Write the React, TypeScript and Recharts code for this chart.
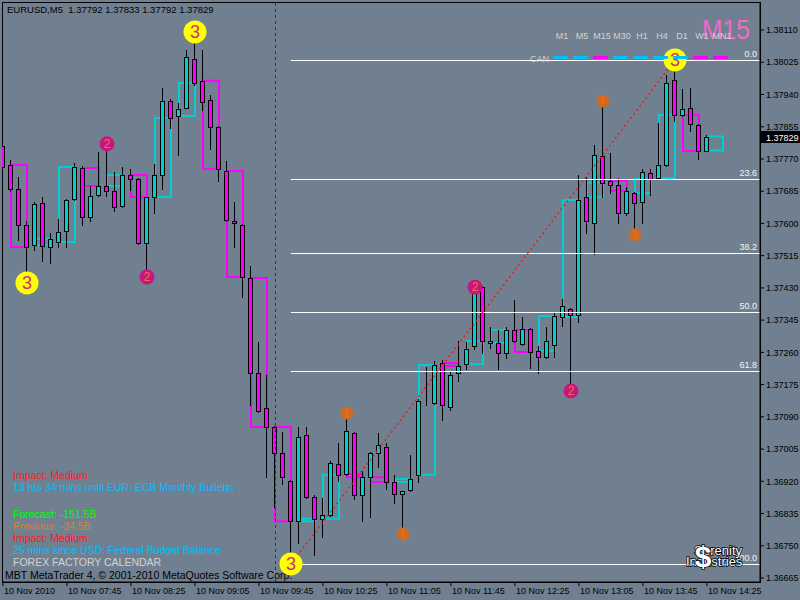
import React from 'react';
import { ComposedChart, Bar, XAxis, YAxis, ReferenceLine, ReferenceArea, ReferenceDot } from 'recharts';

// ---- M5 candles (EURUSD) ----
const OPEN = [
  1.37804,1.37754,1.37691,1.37596,1.37543,1.37654,1.37538,1.37551,1.37580,1.37664,
  1.37746,1.37617,1.37675,1.37699,1.37686,1.37646,1.37728,1.37717,1.37548,1.37670,
  1.37728,1.37923,1.37883,1.37904,1.38034,1.37976,1.37926,1.37854,1.37738,1.37606,
  1.37596,1.37456,1.37206,1.37113,1.37063,1.36995,1.36921,1.36815,1.37042,1.36879,
  1.36821,1.36831,1.36966,1.36939,1.37047,1.36884,1.36931,1.36995,1.37010,1.36918,
  1.36887,1.36897,1.36937,1.37126,1.37126,1.37232,1.37116,1.37206,1.37229,1.37277,
  1.37432,1.37285,1.37285,1.37258,1.37319,1.37282,1.37322,1.37264,1.37248,1.37279,
  1.37353,1.37374,1.37359,1.37670,1.37601,1.37778,1.37712,1.37701,1.37628,1.37680,
  1.37657,1.37733,1.37720,1.37754,1.37978,1.37886,1.37904,1.37860,1.37792,
];
const HIGH = [
  1.37857,1.37767,1.37722,1.37606,1.37657,1.37670,1.37575,1.37612,1.37664,1.37759,
  1.37751,1.37699,1.37788,1.37810,1.37736,1.37749,1.37744,1.37720,1.37670,1.37757,
  1.37957,1.37928,1.37918,1.38057,1.38105,1.38057,1.37939,1.37857,1.37765,1.37657,
  1.37598,1.37488,1.37287,1.37200,1.37065,1.37050,1.36923,1.37063,1.37063,1.36884,
  1.36876,1.36974,1.37021,1.37100,1.37049,1.36947,1.36997,1.37047,1.37021,1.36937,
  1.36894,1.36989,1.37137,1.37221,1.37237,1.37240,1.37208,1.37290,1.37287,1.37432,
  1.37434,1.37327,1.37319,1.37327,1.37398,1.37353,1.37324,1.37277,1.37327,1.37366,
  1.37401,1.37377,1.37728,1.37722,1.37807,1.37923,1.37786,1.37720,1.37696,1.37682,
  1.37744,1.37744,1.37865,1.37991,1.38031,1.37955,1.37957,1.37862,1.37833,
];
const LOW = [
  1.37741,1.37686,1.37556,1.37443,1.37530,1.37501,1.37496,1.37538,1.37538,1.37662,
  1.37596,1.37606,1.37672,1.37672,1.37633,1.37643,1.37688,1.37545,1.37459,1.37628,
  1.37691,1.37852,1.37780,1.37904,1.37965,1.37899,1.37796,1.37712,1.37606,1.37538,
  1.37406,1.37121,1.37103,1.36931,1.36852,1.36913,1.36702,1.36757,1.36877,1.36726,
  1.36773,1.36829,1.36921,1.36937,1.36873,1.36815,1.36826,1.36958,1.36900,1.36863,
  1.36781,1.36895,1.36918,1.37121,1.37124,1.37082,1.37108,1.37184,1.37216,1.37269,
  1.37258,1.37272,1.37216,1.37245,1.37288,1.37280,1.37219,1.37206,1.37246,1.37248,
  1.37330,1.37158,1.37340,1.37575,1.37519,1.37670,1.37680,1.37601,1.37622,1.37570,
  1.37601,1.37675,1.37718,1.37752,1.37870,1.37884,1.37844,1.37770,1.37792,
];
const CLOSE = [
  1.37749,1.37691,1.37596,1.37538,1.37651,1.37540,1.37559,1.37577,1.37662,1.37749,
  1.37617,1.37672,1.37699,1.37686,1.37643,1.37728,1.37717,1.37548,1.37670,1.37728,
  1.37923,1.37878,1.37902,1.38039,1.37970,1.37920,1.37854,1.37744,1.37609,1.37601,
  1.37459,1.37206,1.37105,1.37063,1.36995,1.36931,1.36815,1.37037,1.36879,1.36821,
  1.36831,1.36968,1.36937,1.37053,1.36884,1.36931,1.36995,1.37016,1.36918,1.36887,
  1.36895,1.36926,1.37132,1.37126,1.37227,1.37121,1.37200,1.37224,1.37269,1.37424,
  1.37290,1.37290,1.37258,1.37319,1.37290,1.37322,1.37261,1.37248,1.37290,1.37356,
  1.37382,1.37359,1.37662,1.37606,1.37780,1.37707,1.37701,1.37628,1.37686,1.37654,
  1.37736,1.37717,1.37754,1.37970,1.37886,1.37902,1.37862,1.37791,1.37829,
];

const TIME_TICKS = [0, 8, 16, 24, 32, 40, 48, 56, 64, 72, 80, 88];
const TIME_LABELS = [
  '10 Nov 2010', '10 Nov 07:45', '10 Nov 08:25', '10 Nov 09:05', '10 Nov 09:45', '10 Nov 10:25',
  '10 Nov 11:05', '10 Nov 11:45', '10 Nov 12:25', '10 Nov 13:05', '10 Nov 13:45', '10 Nov 14:25',
];
const PRICE_TICKS = [
  1.38110, 1.38025, 1.37940, 1.37855, 1.37770, 1.37685, 1.37600, 1.37515, 1.37430,
  1.37345, 1.37260, 1.37175, 1.37090, 1.37005, 1.36920, 1.36835, 1.36750, 1.36665,
];

// Fibonacci retracement from swing low to swing high
const FIB_FROM = 36;
const FIB_TO = 84;
const FIB_LEVELS = [0, 23.6, 38.2, 50, 61.8, 100];
const FIB_LABELS = ['0.0', '23.6', '38.2', '50.0', '61.8', '100.0'];

// zigzag markers (index, H/L)
const ZIGZAG3 = [{ i: 3, side: 'L' }, { i: 24, side: 'H' }, { i: 36, side: 'L' }, { i: 84, side: 'H' }];
const ZIGZAG2 = [{ i: 13, side: 'H' }, { i: 18, side: 'L' }, { i: 59, side: 'H' }, { i: 71, side: 'L' }];
const ZIGZAG1 = [{ i: 43, side: 'H' }, { i: 50, side: 'L' }, { i: 75, side: 'H' }, { i: 79, side: 'L' }];

const SEPARATOR_IDX = 34;
const M15_GROUP_START = 1; // first M5 bar of an M15 bar

const TIMEFRAMES = ['M1', 'M5', 'M15', 'M30', 'H1', 'H4', 'D1', 'W1', 'MN1'];
const TF_TREND = ['up', 'up', 'down', 'up', 'up', 'up', 'up', 'down', 'down'];

const NEWS = [
  { t: 'Impact: Medium', c: '#ff1a1a' },
  { t: '13 hrs 34 mins until EUR: ECB Monthly Bulletin', c: '#00bfff' },
  { t: 'Forecast: -151.5B', c: '#00ff00' },
  { t: 'Previous: -34.5B', c: '#cd853f' },
  { t: 'Impact: Medium', c: '#ff1a1a' },
  { t: '25 mins since USD: Federal Budget Balance', c: '#00bfff' },
  { t: 'FOREX FACTORY CALENDAR', c: '#d3d3d3' },
];
const NEWS_BASE = [479, 491, 518, 530, 542, 554, 566];

const BG = '#708090';
const CYAN = '#00ced1';
const MAGENTA = '#ff00ff';
const FONT = '"Liberation Sans", Arial, sans-serif';

const X_MIN = -0.125;
const X_MAX = 94.625;
const Y_MIN = 1.366545;
const Y_MAX = 1.381839;

const N = OPEN.length;
const DATA = OPEN.map((o, i) => ({ i, o, h: HIGH[i], l: LOW[i], c: CLOSE[i], range: [LOW[i], HIGH[i]] }));

const BOXES: { g: number; o: number; c: number }[] = [];
for (let g = M15_GROUP_START; g < N; g += 3) {
  const last = Math.min(g + 2, N - 1);
  BOXES.push({ g, o: OPEN[g], c: CLOSE[last] });
}

const swingHigh = HIGH[FIB_TO];
const swingLow = LOW[FIB_FROM];
const fibPrice = (lvl: number) => swingHigh - (swingHigh - swingLow) * lvl / 100;

const crisp = (v: number) => Math.round(v) + 0.5;

const Candle = (props: any) => {
  const { x, y, width, height, payload } = props;
  if (x == null || y == null) return null;
  const { o, h, l, c } = payload;
  const yTop = Math.min(y, y + height);
  const hh = Math.abs(height);
  const span = h - l;
  const py = (v: number) => (span > 0 ? yTop + ((h - v) / span) * hh : yTop);
  const cx = Math.floor(x + width / 2) + 0.5;
  const top = Math.round(py(Math.max(o, c))) + 0.5;
  const bot = Math.round(py(Math.min(o, c))) + 0.5;
  const up = c >= o;
  return (
    <g>
      <line x1={cx} x2={cx} y1={Math.round(py(h))} y2={Math.round(py(l)) + 1} stroke="#000" strokeWidth={1} />
      <rect x={cx - 2} y={top} width={4} height={Math.max(bot - top, 0)} fill={up ? CYAN : MAGENTA} stroke="#000" strokeWidth={1} />
    </g>
  );
};

const TimeTick = (props: any) => {
  const { x, y, payload } = props;
  const k = TIME_TICKS.indexOf(payload.value);
  return (
    <text x={x + 1} y={y} dy="0.71em" textAnchor="start" fontSize={9} fill="#000" fontFamily={FONT}>
      {TIME_LABELS[k]}
    </text>
  );
};

const crispLine = (color: string, dash?: string) => (p: any) => (
  <line
    x1={p.x1 === p.x2 ? crisp(p.x1) : p.x1}
    x2={p.x1 === p.x2 ? crisp(p.x2) : p.x2}
    y1={p.y1 === p.y2 ? crisp(p.y1) : p.y1}
    y2={p.y1 === p.y2 ? crisp(p.y2) : p.y2}
    stroke={color}
    strokeWidth={1}
    strokeDasharray={dash}
  />
);

export default function App() {
  const last = N - 1;
  const header = `EURUSD,M5  ${OPEN[last].toFixed(5)} ${HIGH[last].toFixed(5)} ${LOW[last].toFixed(5)} ${CLOSE[last].toFixed(5)}`;
  return (
    <div style={{ position: 'absolute', left: 0, top: 0, width: 800, height: 600, background: BG, overflow: 'hidden', fontFamily: FONT }}>
      <svg style={{ position: 'absolute', left: 0, top: 0 }} width={800} height={600}>
        <rect x={2.5} y={2.5} width={758} height={580} fill="none" stroke="#000" />
        <text x={7} y={13} fontSize={9.5} fill="#000" style={{ whiteSpace: 'pre' }}>{header}</text>
        {NEWS.map((n, k) => (
          <text key={k} x={13} y={NEWS_BASE[k]} fontSize={10.5} fill={n.c}>{n.t}</text>
        ))}
        <text x={5} y={579} fontSize={10.5} fill="#000">MBT MetaTrader 4, © 2001-2010 MetaQuotes Software Corp.</text>
      </svg>
      <div style={{ position: 'absolute', left: 0, top: 0 }}>
        <ComposedChart width={800} height={600} data={DATA} margin={{ top: 2, right: 0, bottom: 0, left: 2 }}>
          <XAxis
            dataKey="i"
            type="number"
            domain={[X_MIN, X_MAX]}
            allowDataOverflow
            ticks={TIME_TICKS}
            interval={0}
            height={18}
            tick={<TimeTick />}
            tickSize={4}
            tickLine={{ stroke: '#000' }}
            axisLine={{ stroke: '#000' }}
          />
          <YAxis
            orientation="right"
            type="number"
            domain={[Y_MIN, Y_MAX]}
            allowDataOverflow
            ticks={PRICE_TICKS}
            interval={0}
            width={40}
            tickFormatter={(v: number) => v.toFixed(5)}
            tick={{ fill: '#000', fontSize: 9, fontFamily: FONT }}
            tickSize={4}
            tickLine={{ stroke: '#000' }}
            axisLine={{ stroke: '#000' }}
          />
          <ReferenceLine x={SEPARATOR_IDX} stroke="#303840" strokeDasharray="3 3" shape={crispLine('#303840', '3 3')} />
          {FIB_LEVELS.map((lvl, k) => (
            <ReferenceLine
              key={'fib' + k}
              segment={[{ x: FIB_FROM, y: fibPrice(lvl) }, { x: X_MAX, y: fibPrice(lvl) }]}
              stroke="#ffffff"
              strokeWidth={1}
              shape={crispLine('#ffffff')}
              label={(p: any) => {
                const vb = p.viewBox || {};
                return (
                  <text x={(vb.x || 0) + (vb.width || 0) - 3} y={Math.round(vb.y || 0) - 3} textAnchor="end" fontSize={9} fill="#f4f4f4" fontFamily={FONT}>
                    {FIB_LABELS[k]}
                  </text>
                );
              }}
            />
          ))}
          <ReferenceLine
            segment={[{ x: FIB_FROM, y: swingLow }, { x: FIB_TO, y: swingHigh }]}
            stroke="#ff1010"
            strokeWidth={1.4}
            strokeDasharray="2 3"
          />
          {ZIGZAG3.map((m) => (
            <ReferenceDot key={'z3' + m.i} x={m.i} y={m.side === 'H' ? HIGH[m.i] : LOW[m.i]} r={11.5} fill="#ffff00" stroke="none" ifOverflow="visible"
              label={{ value: '3', position: 'center', fill: '#d02c80', fontSize: 18, fontFamily: FONT }} />
          ))}
          {ZIGZAG2.map((m) => (
            <ReferenceDot key={'z2' + m.i} x={m.i} y={m.side === 'H' ? HIGH[m.i] : LOW[m.i]} r={7.5} fill="#c71585" stroke="none" ifOverflow="visible"
              label={{ value: '2', position: 'center', fill: '#e8762a', fontSize: 12, fontFamily: FONT }} />
          ))}
          {ZIGZAG1.map((m) => (
            <ReferenceDot key={'z1' + m.i} x={m.i} y={m.side === 'H' ? HIGH[m.i] : LOW[m.i]} r={6.5} fill="#d2691e" stroke="none" ifOverflow="visible"
              label={{ value: '1', position: 'center', fill: '#dc7430', fontSize: 10, fontFamily: FONT }} />
          ))}
          {BOXES.map((b) => (
            <ReferenceArea key={'bx' + b.g} x1={b.g} x2={b.g + 2} y1={b.o} y2={b.c} fill="none" fillOpacity={0}
              stroke={b.c >= b.o ? CYAN : MAGENTA} strokeWidth={2} ifOverflow="visible" />
          ))}
          <Bar dataKey="range" barSize={5} shape={<Candle />} isAnimationActive={false} />
          <ReferenceLine
            y={CLOSE[last]}
            stroke="none"
            strokeOpacity={0}
            label={(p: any) => {
              const vb = p.viewBox || {};
              const rx = (vb.x || 0) + (vb.width || 0);
              const cy = Math.round(vb.y || 0);
              return (
                <g>
                  <rect x={rx} y={cy - 6} width={40} height={12} fill="#000" />
                  <text x={rx + 6} y={cy + 3.5} fontSize={9} fill="#fff" fontFamily={FONT}>{CLOSE[last].toFixed(5)}</text>
                </g>
              );
            }}
          />
        </ComposedChart>
      </div>
      <svg style={{ position: 'absolute', left: 0, top: 0, pointerEvents: 'none' }} width={800} height={600}>
        <text x={702} y={39} fontSize={28} fill="#f06bc8" textLength={48} lengthAdjust="spacingAndGlyphs" fontFamily={FONT}>M15</text>
        {TIMEFRAMES.map((tf, k) => (
          <g key={tf}>
            <text x={562 + 20 * k} y={39} textAnchor="middle" fontSize={9} fill="#d3d3d3" fontFamily={FONT}>{tf}</text>
            <rect x={553 + 20 * k} y={56} width={15} height={3} fill={TF_TREND[k] === 'up' ? '#00bfff' : MAGENTA} />
          </g>
        ))}
        <text x={530} y={62} fontSize={9} fill="#d3d3d3" fontFamily={FONT}>CAN</text>
        <text x={742} y={555} textAnchor="end" fontSize={13} fill="#ffffff" stroke="#000" strokeWidth={1.5} style={{ paintOrder: 'stroke' }} fontFamily={FONT}>Serenity</text>
        <text x={686} y={566} fontSize={13} fill="#ffffff" stroke="#000" strokeWidth={1.5} style={{ paintOrder: 'stroke' }} fontFamily={FONT}>Industries</text>
        <text x={703} y={567} textAnchor="middle" fontSize={30} fontWeight="bold" fill="#ffffff" stroke="#000" strokeWidth={1.5} style={{ paintOrder: 'stroke' }} fontFamily={FONT}>$</text>
      </svg>
    </div>
  );
}
